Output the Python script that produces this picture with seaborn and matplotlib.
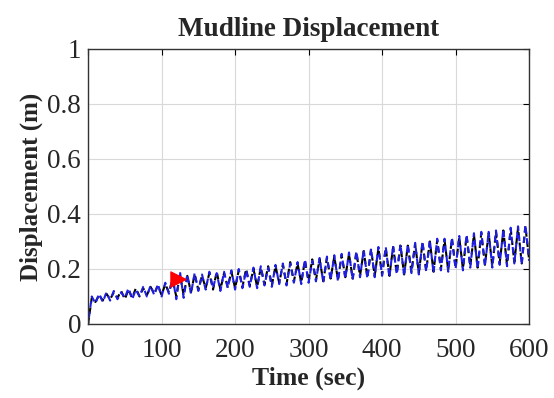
import numpy as np
import pandas as pd
import matplotlib
matplotlib.use("Agg")
import matplotlib.pyplot as plt
import seaborn as sns

# time grid (sec), one sample every 5 s
time_sec = np.arange(0, 601, 5)

# displacement (m), alternating crest / trough
disp_blue = [
    0.000, 0.100, 0.075, 0.110, 0.080, 0.115, 0.085, 0.120, 0.090, 0.115,
    0.095, 0.130, 0.090, 0.125, 0.100, 0.135, 0.100, 0.140, 0.105, 0.145,
    0.100, 0.150, 0.110, 0.170, 0.090, 0.190, 0.095, 0.180, 0.110, 0.185,
    0.120, 0.180, 0.125, 0.190, 0.130, 0.185, 0.120, 0.190, 0.130, 0.195,
    0.125, 0.200, 0.130, 0.195, 0.135, 0.205, 0.130, 0.210, 0.140, 0.205,
    0.135, 0.215, 0.145, 0.220, 0.140, 0.220, 0.150, 0.225, 0.145, 0.235,
    0.150, 0.230, 0.155, 0.240, 0.150, 0.245, 0.160, 0.250, 0.155, 0.255,
    0.165, 0.260, 0.160, 0.265, 0.170, 0.270, 0.165, 0.275, 0.170, 0.280,
    0.175, 0.280, 0.170, 0.285, 0.180, 0.290, 0.175, 0.290, 0.185, 0.295,
    0.180, 0.300, 0.190, 0.305, 0.185, 0.310, 0.195, 0.310, 0.190, 0.315,
    0.200, 0.320, 0.195, 0.325, 0.205, 0.330, 0.200, 0.335, 0.210, 0.335,
    0.205, 0.340, 0.215, 0.345, 0.210, 0.350, 0.220, 0.355, 0.215, 0.360,
    0.230,
]
disp_black = [
    0.000, 0.095, 0.080, 0.105, 0.085, 0.110, 0.090, 0.115, 0.095, 0.120,
    0.090, 0.125, 0.095, 0.130, 0.100, 0.130, 0.105, 0.135, 0.110, 0.140,
    0.105, 0.145, 0.115, 0.160, 0.100, 0.180, 0.105, 0.175, 0.115, 0.180,
    0.125, 0.175, 0.130, 0.185, 0.125, 0.190, 0.125, 0.185, 0.135, 0.190,
    0.130, 0.195, 0.135, 0.200, 0.140, 0.200, 0.135, 0.205, 0.145, 0.210,
    0.140, 0.210, 0.150, 0.215, 0.145, 0.225, 0.155, 0.220, 0.150, 0.230,
    0.155, 0.235, 0.160, 0.235, 0.155, 0.240, 0.165, 0.245, 0.160, 0.250,
    0.170, 0.255, 0.165, 0.260, 0.175, 0.265, 0.170, 0.270, 0.175, 0.275,
    0.180, 0.275, 0.175, 0.280, 0.185, 0.285, 0.180, 0.285, 0.190, 0.290,
    0.185, 0.295, 0.195, 0.300, 0.190, 0.305, 0.200, 0.305, 0.195, 0.310,
    0.205, 0.315, 0.200, 0.320, 0.210, 0.325, 0.205, 0.330, 0.215, 0.330,
    0.210, 0.335, 0.220, 0.340, 0.215, 0.345, 0.225, 0.350, 0.220, 0.355,
    0.235,
]

marker_t = [122]
marker_d = [0.165]

x_ticks = [0, 100, 200, 300, 400, 500, 600]
y_ticks = [0, 0.2, 0.4, 0.6, 0.8, 1.0]
y_tick_labels = ["0", "0.2", "0.4", "0.6", "0.8", "1"]

sns.set_style("whitegrid")
plt.rcParams["font.family"] = ["Liberation Serif", "DejaVu Serif"]

df = pd.DataFrame({"t": time_sec, "blue": disp_blue, "black": disp_black})

fig = plt.figure(figsize=(5.54, 3.98), dpi=100)
ax = fig.add_axes([0.159, 0.186, 0.796, 0.691])

sns.lineplot(data=df, x="t", y="black", ax=ax, color="black",
             linewidth=1.5, linestyle=(0, (3, 2)))
sns.lineplot(data=df, x="t", y="blue", ax=ax, color="#1f1fe0",
             linewidth=1.5, linestyle=(2, (3, 2)))
sns.scatterplot(x=marker_t, y=marker_d, ax=ax, marker=">", s=120,
                color="red", edgecolor="red", zorder=5)

ax.set_xlim(0, 600)
ax.set_ylim(0, 1)
ax.set_xticks(x_ticks)
ax.set_yticks(y_ticks)
ax.set_yticklabels(y_tick_labels)
ax.tick_params(direction="in", length=4, labelsize=19.5, top=True, right=True,
               color="black")
ax.tick_params(axis="x", pad=10)
ax.tick_params(axis="y", pad=5)
ax.grid(True, color="#d9d9d9", linewidth=0.8)
for s in ax.spines.values():
    s.set_color("#333333")
    s.set_linewidth(1.0)

ax.set_title("Mudline Displacement", fontsize=19.5, fontweight="bold", pad=9)
ax.set_xlabel("Time (sec)", fontsize=18.5, fontweight="bold", labelpad=3)
ax.set_ylabel("Displacement (m)", fontsize=18, fontweight="bold", labelpad=3)

fig.savefig("out.png", dpi=100)
